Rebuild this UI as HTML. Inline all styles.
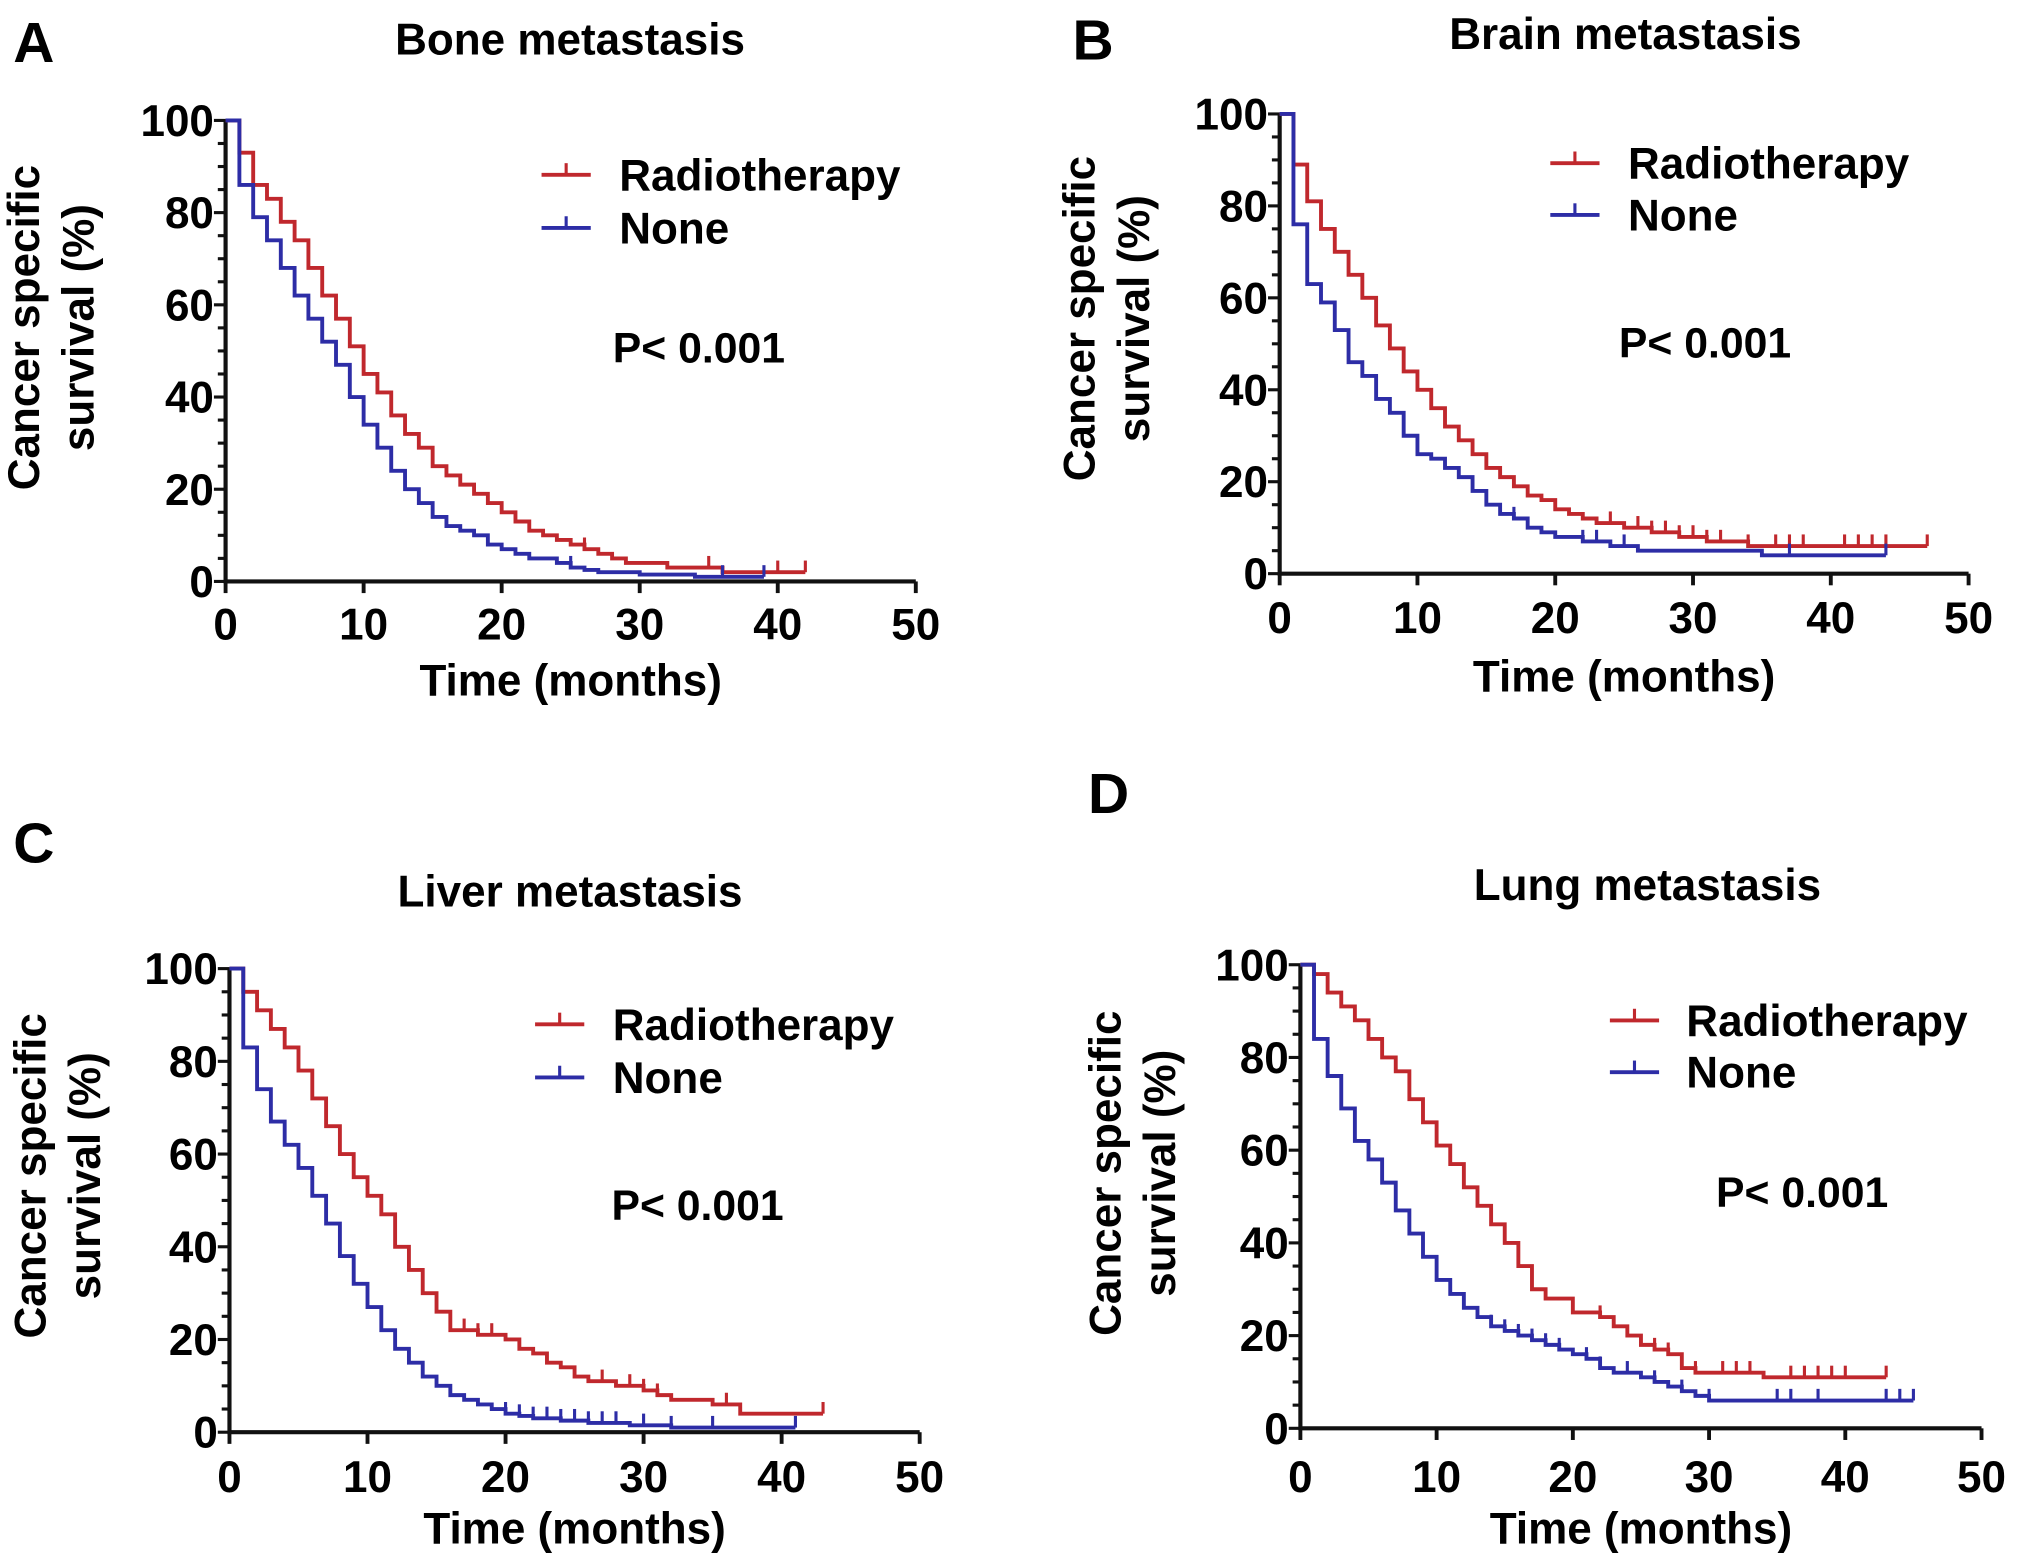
<!DOCTYPE html>
<html><head><meta charset="utf-8"><style>
html,body{margin:0;padding:0;background:#fff;}
svg{display:block;font-family:"Liberation Sans",Arial,sans-serif;font-weight:bold;}
</style></head><body>
<svg id="fig" width="2031" height="1563" viewBox="0 0 1568 1207" xmlns="http://www.w3.org/2000/svg"></svg>
<script>
// ---- data (months, survival %) ----
const xTicks = [0,10,20,30,40,50];
const yTicks = [0,20,40,60,80,100];
const titles = ["Bone metastasis","Brain metastasis","Liver metastasis","Lung metastasis"];
const panelLetters = ["A","B","C","D"];
const seriesNames = ["Radiotherapy","None"];

const boneRadT = [0,1,2,3,4,5,6,7,8,9,10,11,12,13,14,15,16,17,18,19,20,21,22,23,24,25,26,27,28,29,32,36,42];
const boneRadS = [100,93,86,83,78,74,68,62,57,51,45,41,36,32,29,25,23,21,19,17,15,13,11,10,9,8,7,6,5,4,3,2,2];
const boneNoneT = [0,1,2,3,4,5,6,7,8,9,10,11,12,13,14,15,16,17,18,19,20,21,22,24,25,26,27,30,34,39];
const boneNoneS = [100,86,79,74,68,62,57,52,47,40,34,29,24,20,17,14,12,11,10,8,7,6,5,4,3,2.5,2,1.5,1,1];
const boneRadC = [26,35,40,42];
const boneNoneC = [25,36,39];

const brainRadT = [0,1,2,3,4,5,6,7,8,9,10,11,12,13,14,15,16,17,18,19,20,21,22,23,25,27,29,31,34,47];
const brainRadS = [100,89,81,75,70,65,60,54,49,44,40,36,32,29,26,23,21,19,17,16,14,13,12,11,10,9,8,7,6,6];
const brainNoneT = [0,1,2,3,4,5,6,7,8,9,10,11,12,13,14,15,16,17,18,19,20,22,24,26,35,44];
const brainNoneS = [100,76,63,59,53,46,43,38,35,30,26,25,23,21,18,15,13,12,10,9,8,7,6,5,4,4];
const brainRadC = [24,26,27,28,29,30,31,32,34,36,37,38,41,42,43,44,47];
const brainNoneC = [17,22,23,25,37,44];

const liverRadT = [0,1,2,3,4,5,6,7,8,9,10,11,12,13,14,15,16,18,20,21,22,23,24,25,26,28,30,31,32,35,37,43];
const liverRadS = [100,95,91,87,83,78,72,66,60,55,51,47,40,35,30,26,22,21,20,18,17,15,14,12,11,10,9,8,7,6,4,4];
const liverNoneT = [0,1,2,3,4,5,6,7,8,9,10,11,12,13,14,15,16,17,18,19,20,21,22,24,26,29,32,41];
const liverNoneS = [100,83,74,67,62,57,51,45,38,32,27,22,18,15,12,10,8,7,6,5,4,3.5,3,2.5,2,1.5,1,1];
const liverRadC = [17,18,19,27,29,30,31,36,43];
const liverNoneC = [20,21,22,23,24,25,26,27,28,30,32,35,41];

const lungRadT = [0,1,2,3,4,5,6,7,8,9,10,11,12,13,14,15,16,17,18,20,22,23,24,25,26,27,28,29,34,43];
const lungRadS = [100,98,94,91,88,84,80,77,71,66,61,57,52,48,44,40,35,30,28,25,24,22,20,18,17,16,13,12,11,11];
const lungNoneT = [0,1,2,3,4,5,6,7,8,9,10,11,12,13,14,15,16,17,18,19,20,21,22,23,25,26,27,28,29,30,45];
const lungNoneS = [100,84,76,69,62,58,53,47,42,37,32,29,26,24,22,21,20,19,18,17,16,15,13,12,11,10,9,8,7,6,6];
const lungRadC = [22,26,27,29,31,32,33,36,37,38,39,40,43];
const lungNoneC = [14,15,16,17,18,19,21,22,24,26,28,30,35,36,38,43,44,45];

const seriesT = [[boneRadT,boneNoneT],[brainRadT,brainNoneT],[liverRadT,liverNoneT],[lungRadT,lungNoneT]];
const seriesS = [[boneRadS,boneNoneS],[brainRadS,brainNoneS],[liverRadS,liverNoneS],[lungRadS,lungNoneS]];
const seriesC = [[boneRadC,boneNoneC],[brainRadC,brainNoneC],[liverRadC,liverNoneC],[lungRadC,lungNoneC]];

// ---- layout ----
const layout = [
  {x0:174,x1:707,yTop:93,yBot:449,title:[440,30],letter:[10,48],leg:[418,478,135,176],p:[473,280],ylx:[30,72],yly:265,xtY:494,xlY:537},
  {x0:988,x1:1520,yTop:88,yBot:443,title:[1255,26],letter:[828,46],leg:[1197,1257,126,166],p:[1250,276],ylx:[845,887],yly:258,xtY:489,xlY:534},
  {x0:177,x1:710,yTop:748,yBot:1106,title:[440,688],letter:[10,666],leg:[413,473,791,832],p:[472,942],ylx:[35,77],yly:920,xtY:1152,xlY:1192},
  {x0:1004,x1:1530,yTop:745,yBot:1103,title:[1272,683],letter:[840,628],leg:[1243,1302,788,828],p:[1325,932],ylx:[865,907],yly:918,xtY:1152,xlY:1192}
];
const colors = ["#c0282d","#2d2da6"];
const NS = "http://www.w3.org/2000/svg";
const svg = document.getElementById("fig");
function mk(tag, attrs, parent){const e=document.createElementNS(NS,tag);for(const k in attrs)e.setAttribute(k,attrs[k]);(parent||svg).appendChild(e);return e;}

function stepAt(T,S,t){let v=S[0];for(let i=0;i<T.length;i++){if(T[i]<=t)v=S[i];}return v;}

layout.forEach((L,pi)=>{
  const g = mk("g",{});
  
  
  const xs = v => L.x0 + (L.x1-L.x0)*v/50;
  const ys = v => L.yBot - (L.yBot-L.yTop)*v/100;

  const let_ = mk("text",{x:L.letter[0],y:L.letter[1],"font-size":44},g); let_.textContent=panelLetters[pi];
  
  
  const tt = mk("text",{x:L.title[0],y:L.title[1]+12,"font-size":34,"text-anchor":"middle"},g); tt.textContent=titles[pi];
  
  

  // axes
  const ax = mk("path",{d:`M${L.x0},${L.yTop}V${L.yBot}H${L.x1}`,stroke:"#111","stroke-width":3.2,fill:"none"},g);
  
  
  for(let v=0; v<=100; v+=5){
    const major = v%20===0;
    mk("line",{x1:L.x0-(major?9:6),x2:L.x0,y1:ys(v),y2:ys(v),stroke:"#111","stroke-width":2.4},g);
  }
  yTicks.forEach(v=>{const t=mk("text",{x:L.x0-9,y:ys(v)+12,"font-size":34,"text-anchor":"end"},g);t.textContent=v;
    
    });
  xTicks.forEach(v=>{mk("line",{x1:xs(v),x2:xs(v),y1:L.yBot,y2:L.yBot+9,stroke:"#111","stroke-width":3},g);
    const t=mk("text",{x:xs(v),y:L.xtY,"font-size":34,"text-anchor":"middle"},g);t.textContent=v;
    
    });
  const xl = mk("text",{x:(L.x0+L.x1)/2,y:L.xlY,"font-size":34,"text-anchor":"middle"},g); xl.textContent="Time (months)";
  
  
  ["Cancer specific","survival (%)"].forEach((s,i)=>{
    const t=mk("text",{x:L.ylx[i]+12,y:L.yly,"font-size":34,"text-anchor":"middle",transform:`rotate(-90 ${L.ylx[i]} ${L.yly})`},g);t.textContent=s;
    
    
  });

  // series
  [0,1].forEach(si=>{
    const T=seriesT[pi][si], S=seriesS[pi][si];
    let d=`M${xs(T[0])},${ys(S[0])}`;
    for(let i=1;i<T.length;i++){d+=`H${xs(T[i])}V${ys(S[i])}`;}
    const p=mk("path",{d:d,stroke:colors[si],"stroke-width":3,fill:"none"},g);
    
    
    seriesC[pi][si].forEach(c=>{
      const y=ys(stepAt(T,S,c));
      const m=mk("line",{x1:xs(c),x2:xs(c),y1:y-9,y2:y,stroke:colors[si],"stroke-width":2.4},g);
      
      
    });
    // legend
    const ly = L.leg[2+si];
    const lg = mk("g",{},g);
    
    
    mk("line",{x1:L.leg[0],x2:L.leg[0]+38,y1:ly,y2:ly,stroke:colors[si],"stroke-width":3},lg);
    mk("line",{x1:L.leg[0]+19,x2:L.leg[0]+19,y1:ly-9,y2:ly,stroke:colors[si],"stroke-width":2.4},lg);
    const lt=mk("text",{x:L.leg[1],y:ly+12,"font-size":34},lg); lt.textContent=seriesNames[si];
  });
  const pv = mk("text",{x:L.p[0],y:L.p[1],"font-size":33},g); pv.textContent="P< 0.001";
  
  
});
</script>
</body></html>
